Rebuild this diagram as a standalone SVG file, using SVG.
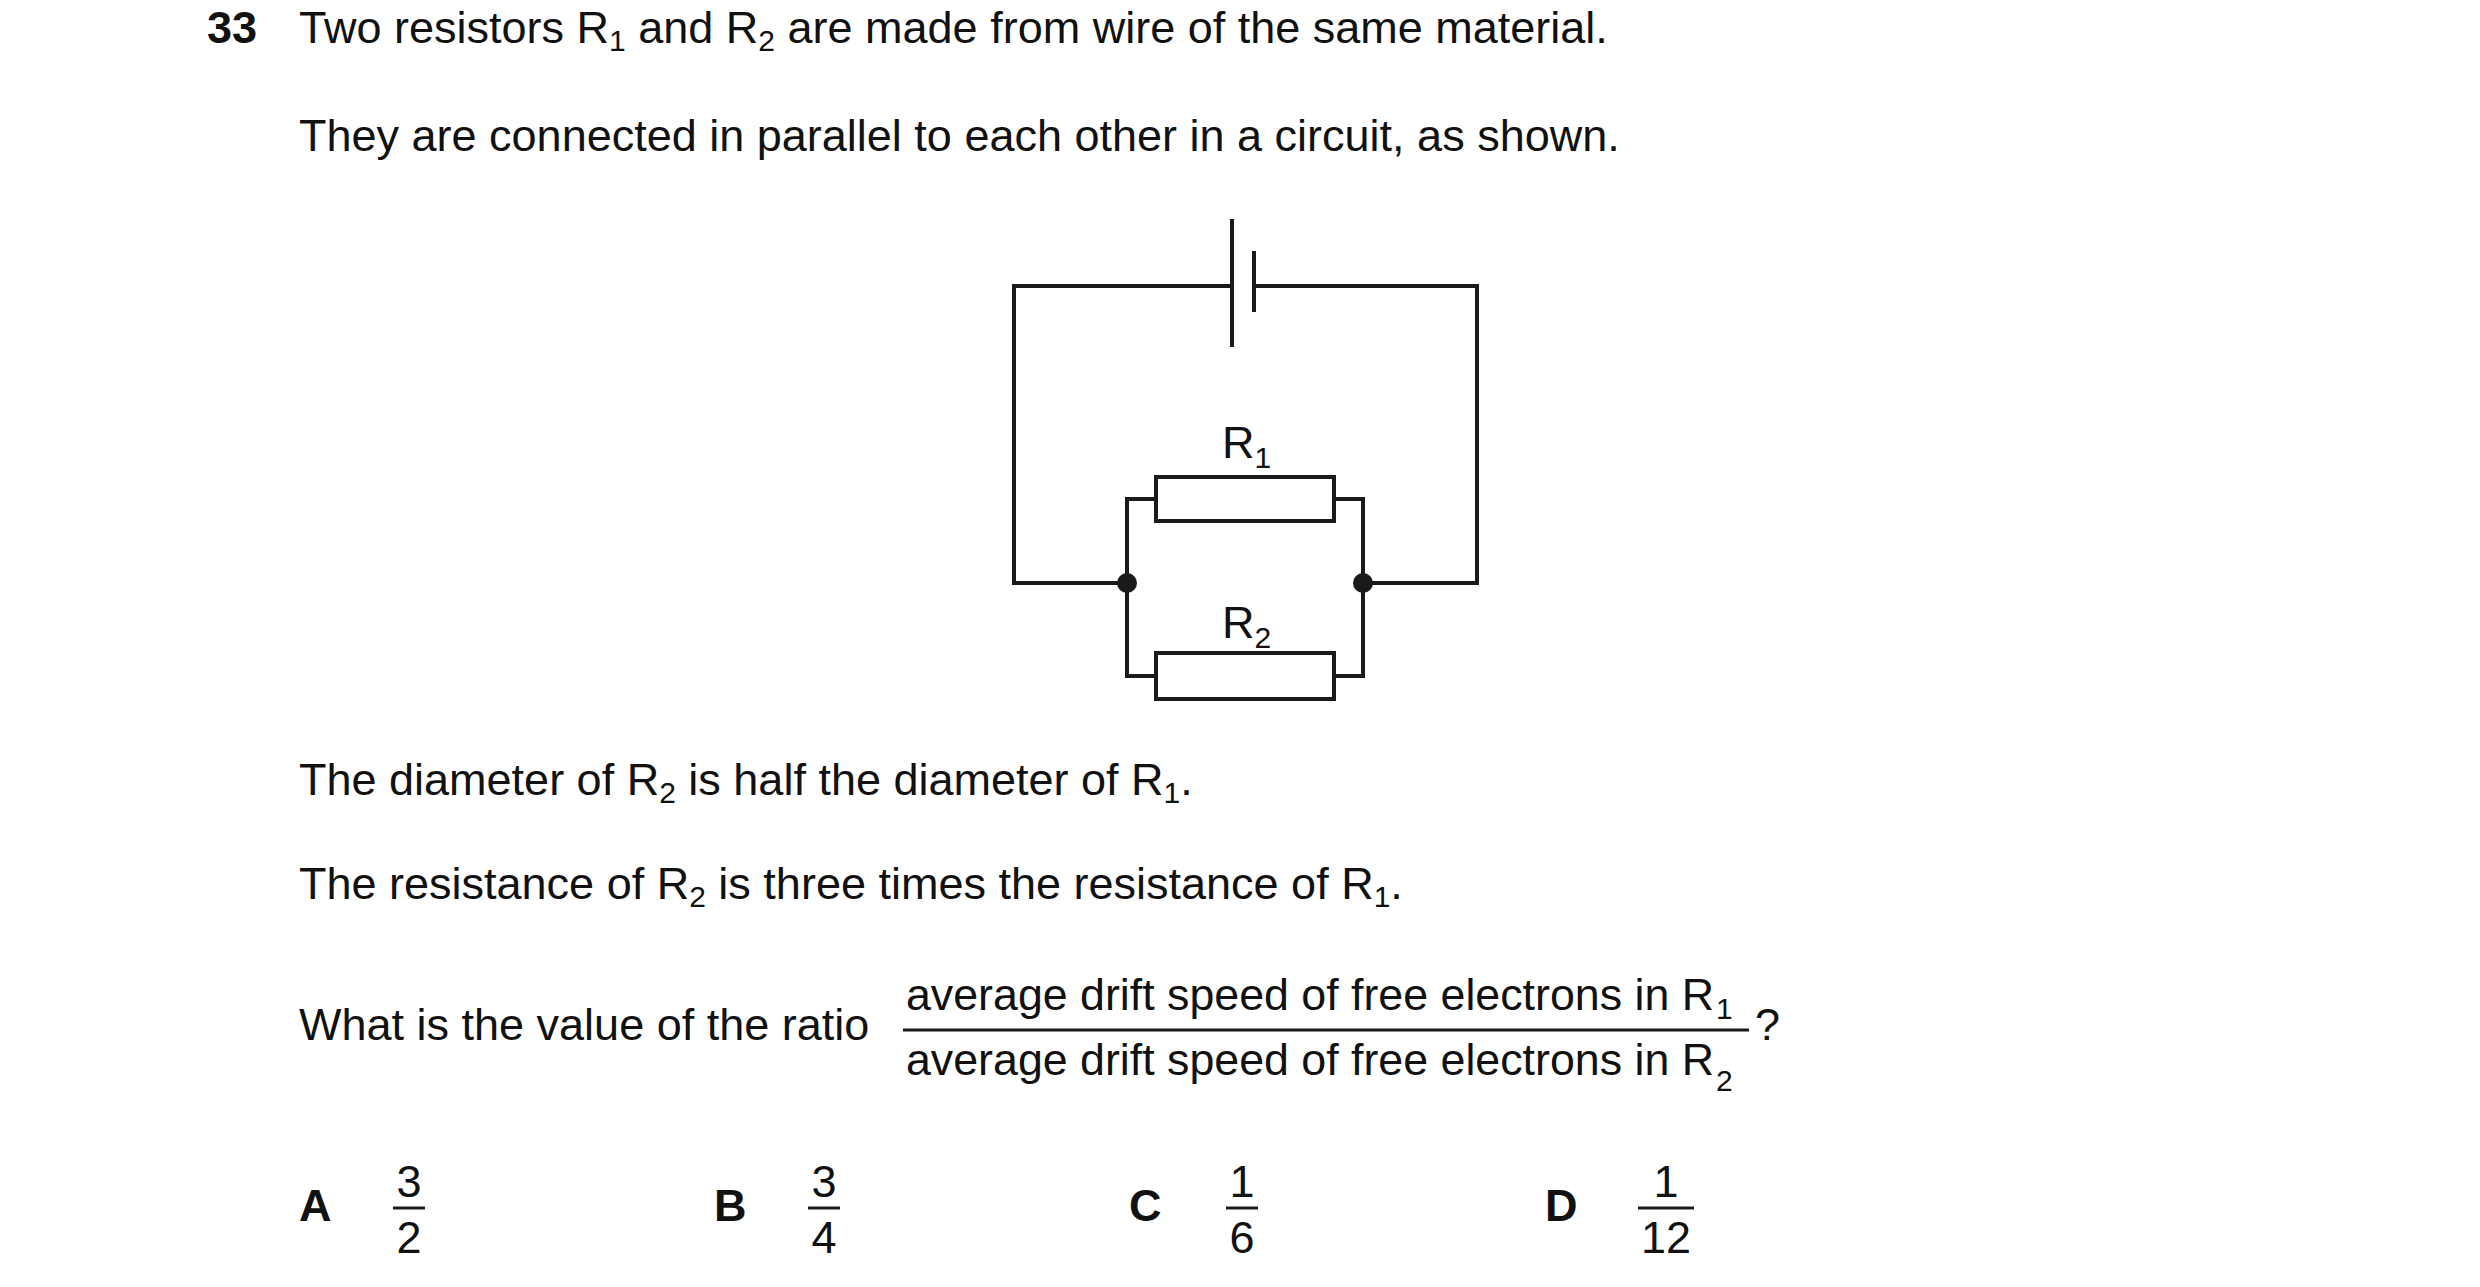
<svg xmlns="http://www.w3.org/2000/svg" width="2480" height="1287" viewBox="0 0 2480 1287">
<style>
text{font-family:"Liberation Sans",Arial,sans-serif;font-size:45px;fill:#111}
.b{font-weight:bold}
.s{font-size:30px}
.w{fill:none;stroke:#1a1a1a;stroke-width:4}
.m{text-anchor:middle}
</style>
<rect width="2480" height="1287" fill="#fff"/>
<g id="text">
<text x="207" y="43" class="b">33</text>
<text x="299" y="43">Two resistors R<tspan class="s" dy="8">1</tspan><tspan dy="-8"> and R</tspan><tspan class="s" dy="8">2</tspan><tspan dy="-8"> are made from wire of the same material.</tspan></text>
<text x="299" y="151">They are connected in parallel to each other in a circuit, as shown.</text>
<text x="299" y="795">The diameter of R<tspan class="s" dy="8">2</tspan><tspan dy="-8"> is half the diameter of R</tspan><tspan class="s" dy="8">1</tspan><tspan dy="-8">.</tspan></text>
<text x="299" y="899">The resistance of R<tspan class="s" dy="8">2</tspan><tspan dy="-8"> is three times the resistance of R</tspan><tspan class="s" dy="8">1</tspan><tspan dy="-8">.</tspan></text>
<text x="299" y="1040">What is the value of the ratio</text>
<text x="906" y="1010" textLength="808" lengthAdjust="spacingAndGlyphs">average drift speed of free electrons in R</text><text x="1716" y="1019" class="s">1</text>
<line x1="903" y1="1030" x2="1749" y2="1030" stroke="#1a1a1a" stroke-width="3"/>
<text x="906" y="1075" textLength="808" lengthAdjust="spacingAndGlyphs">average drift speed of free electrons in R</text><text x="1716" y="1091" class="s">2</text>
<text x="1755" y="1040">?</text>
<text x="299" y="1221" class="b">A</text>
<text x="409" y="1197" class="m">3</text><line x1="393" y1="1208" x2="425" y2="1208" stroke="#1a1a1a" stroke-width="3"/><text x="409" y="1253" class="m">2</text>
<text x="714" y="1221" class="b">B</text>
<text x="824" y="1197" class="m">3</text><line x1="808" y1="1208" x2="840" y2="1208" stroke="#1a1a1a" stroke-width="3"/><text x="824" y="1253" class="m">4</text>
<text x="1129" y="1221" class="b">C</text>
<text x="1242" y="1197" class="m">1</text><line x1="1226" y1="1208" x2="1258" y2="1208" stroke="#1a1a1a" stroke-width="3"/><text x="1242" y="1253" class="m">6</text>
<text x="1545" y="1221" class="b">D</text>
<text x="1666" y="1197" class="m">1</text><line x1="1638" y1="1208" x2="1694" y2="1208" stroke="#1a1a1a" stroke-width="3"/><text x="1666" y="1253" class="m">12</text>
</g>
<g id="connectors">
<path class="w" d="M1232 286 H1014 V583 H1127 M1254 286 H1477 V583 H1363"/>
<path class="w" d="M1156 499 H1127 V676 H1156 M1334 499 H1363 V676 H1334"/>
</g>
<g id="battery">
<line class="w" x1="1232" y1="219" x2="1232" y2="347"/>
<line class="w" x1="1254" y1="251" x2="1254" y2="312"/>
</g>
<g id="R1">
<rect class="w" x="1156" y="477" width="178" height="44"/>
<text x="1222" y="458" font-size="44">R<tspan class="s" dy="10">1</tspan></text>
</g>
<g id="R2">
<rect class="w" x="1156" y="653" width="178" height="46"/>
<text x="1222" y="638" font-size="44">R<tspan class="s" dy="10">2</tspan></text>
</g>
<g id="junctions">
<circle cx="1127" cy="583" r="10" fill="#1a1a1a"/>
<circle cx="1363" cy="583" r="10" fill="#1a1a1a"/>
</g>
</svg>
